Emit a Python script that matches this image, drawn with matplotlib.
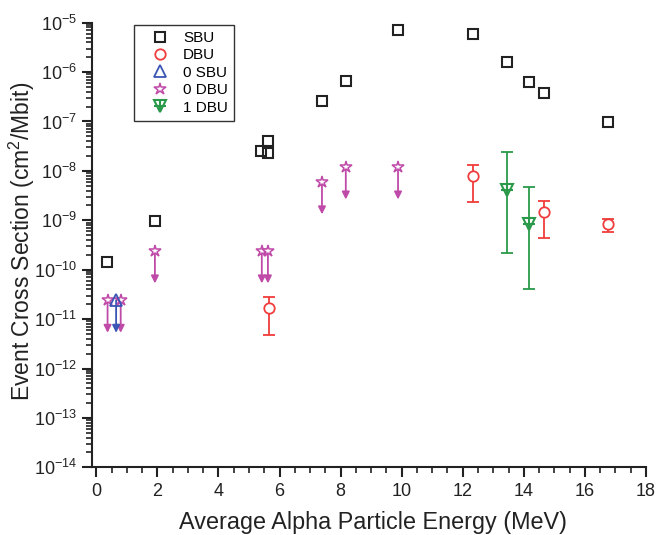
import numpy as np
import matplotlib
matplotlib.use("Agg")
import matplotlib.pyplot as plt
from matplotlib.ticker import LogLocator, MultipleLocator, NullFormatter
from matplotlib.legend_handler import HandlerTuple

plt.rcParams['font.family'] = ['Liberation Sans', 'DejaVu Sans']
plt.rcParams['mathtext.fontset'] = 'custom'
plt.rcParams['mathtext.rm'] = 'Liberation Sans'
plt.rcParams['mathtext.it'] = 'Liberation Sans:italic'
plt.rcParams['mathtext.default'] = 'regular'

# SBU
sbu_x = [0.35, 1.92, 5.40, 5.62, 5.62, 7.39, 8.17, 9.88, 12.33, 13.44, 14.16, 14.66, 16.77]
sbu_y = [1.45e-10, 9.7e-10, 2.5e-8, 4.0e-8, 2.3e-8, 2.6e-7, 6.7e-7, 7.1e-6, 5.8e-6, 1.58e-6, 6.4e-7, 3.7e-7, 9.8e-8]

# DBU with error bars
dbu_x = [5.65, 12.33, 14.66, 16.77]
dbu_y = [1.65e-11, 7.9e-9, 1.47e-9, 8.3e-10]
dbu_hi = [2.8e-11, 1.34e-8, 2.5e-9, 1.08e-9]
dbu_lo = [4.8e-12, 2.3e-9, 4.3e-10, 5.7e-10]

# 0 SBU (upper limits)
sbu0_x = [0.65]
sbu0_y = [2.4e-11]

# 0 DBU (upper limits)
dbu0_x = [0.37, 0.80, 1.92, 5.42, 5.62, 7.39, 8.17, 9.88]
dbu0_y = [2.4e-11, 2.4e-11, 2.4e-10, 2.4e-10, 2.4e-10, 6.0e-9, 1.2e-8, 1.2e-8]

# 1 DBU with error bars
dbu1_x = [13.44, 14.16]
dbu1_y = [4.1e-9, 8.3e-10]
dbu1_hi = [2.4e-8, 4.7e-9]
dbu1_lo = [2.2e-10, 4.1e-11]

xticks = [0, 2, 4, 6, 8, 10, 12, 14, 16, 18]

c_black = '#222222'
c_red = '#f03c3c'
c_blue = '#3a55b5'
c_pink = '#c04aa8'
c_green = '#2a9a4a'

fig = plt.figure(figsize=(6.58, 5.35), dpi=100)
ax = fig.add_axes([0.1398, 0.1265, 0.8420, 0.8311])
ax.set_yscale('log')
ax.set_xlim(-0.14, 18)
ax.set_ylim(1e-14, 1e-5)

arrow_factor = 0.22

def arrows(xs, ys, color):
    for x, y in zip(xs, ys):
        ax.annotate('', xy=(x, y * arrow_factor), xytext=(x, y),
                    arrowprops=dict(arrowstyle='-|>', color=color, lw=1.3,
                                    shrinkA=0, shrinkB=0, mutation_scale=11),
                    zorder=2)

arrows(dbu0_x, dbu0_y, c_pink)
arrows(sbu0_x, sbu0_y, c_blue)

h_sbu, = ax.plot(sbu_x, sbu_y, ls='none', marker='s', ms=6.5, mfc='none',
                 mec=c_black, mew=1.5, zorder=4)

dy = np.array(dbu_y)
err_d = [dy - np.array(dbu_lo), np.array(dbu_hi) - dy]
ax.errorbar(dbu_x, dbu_y, yerr=err_d, ls='none', color=c_red, elinewidth=1.3,
            capsize=4, capthick=1.3, zorder=3)
h_dbu, = ax.plot(dbu_x, dbu_y, ls='none', marker='o', ms=7.5, mfc='white',
                 mec=c_red, mew=1.3, zorder=4)

h_star, = ax.plot(dbu0_x, dbu0_y, ls='none', marker='*', ms=9, mfc='white',
                  mec=c_pink, mew=1.1, zorder=4)
h_tri, = ax.plot(sbu0_x, sbu0_y, ls='none', marker='^', ms=8, mfc='none',
                 mec=c_blue, mew=1.3, zorder=5)

g = np.array(dbu1_y)
err_g = [g - np.array(dbu1_lo), np.array(dbu1_hi) - g]
ax.errorbar(dbu1_x, dbu1_y, yerr=err_g, ls='none', color=c_green, elinewidth=1.3,
            capsize=4, capthick=1.3, zorder=3)
h_v, = ax.plot(dbu1_x, dbu1_y, ls='none', marker='v', ms=8, mfc='white',
               mec=c_green, mew=1.5, zorder=4)
h_p, = ax.plot(dbu1_x, dbu1_y, ls='none', marker='+', ms=8, mec=c_green,
               mew=1.5, zorder=5)

leg = ax.legend([h_sbu, h_dbu, h_tri, h_star, (h_v, h_p)],
                ['SBU', 'DBU', '0 SBU', '0 DBU', '1 DBU'],
                handler_map={tuple: HandlerTuple(ndivide=1)},
                loc='upper left', bbox_to_anchor=(0.0758, 0.9948),
                frameon=True, fancybox=False, edgecolor='black', fontsize=11,
                handlelength=2.6, handletextpad=0.2, borderpad=0.4,
                labelspacing=0.22, borderaxespad=0)
leg.get_frame().set_linewidth(1.0)

ax.set_xticks(xticks)
ax.xaxis.set_minor_locator(MultipleLocator(0.5))
ax.yaxis.set_major_locator(LogLocator(base=10, numticks=20))
ax.yaxis.set_minor_locator(LogLocator(base=10, subs=np.arange(2, 10), numticks=20))
ax.yaxis.set_minor_formatter(NullFormatter())

ax.spines['top'].set_visible(False)
ax.spines['right'].set_visible(False)
for s in ['left', 'bottom']:
    ax.spines[s].set_linewidth(1.5)
    ax.spines[s].set_color('#222222')

ax.tick_params(which='major', direction='out', length=7, width=1.5, labelsize=13,
               colors='#222222', pad=4)
ax.tick_params(which='minor', direction='out', length=4, width=1.2, colors='#222222')

ax.set_xlabel('Average Alpha Particle Energy (MeV)', fontsize=16.8, color='#222222')
ax.set_ylabel('Event Cross Section (cm$^2$/Mbit)', fontsize=16.5, color='#222222')
ax.xaxis.set_label_coords(0.508, -0.099)
ax.yaxis.set_label_coords(-0.0993, 0.507)

fig.savefig('out.png', dpi=100)
